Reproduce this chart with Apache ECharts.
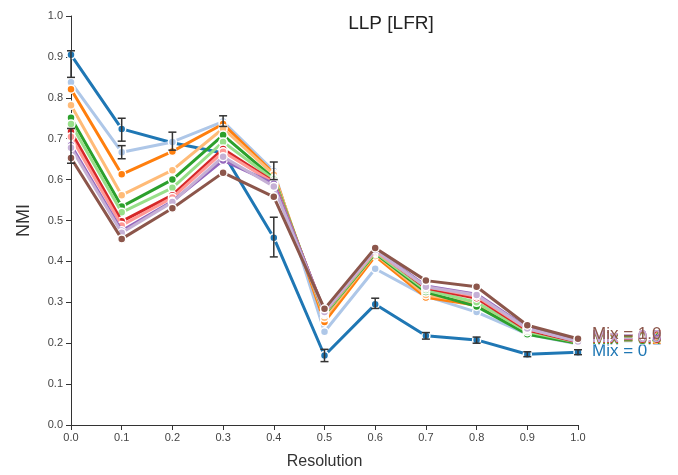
<!DOCTYPE html>
<html><head><meta charset="utf-8">
<script src="https://cdn.jsdelivr.net/npm/echarts@6/dist/echarts.min.js"></script>
<style>html,body{margin:0;padding:0;background:#fff}#c{width:678px;height:475px}</style>
</head><body><div id="c"></div>
<script>
const resolutions = [0.0,0.1,0.2,0.3,0.4,0.5,0.6,0.7,0.8,0.9,1.0];
const mixNames = ['Mix = 0','Mix = 0.1','Mix = 0.2','Mix = 0.3','Mix = 0.4','Mix = 0.5','Mix = 0.6','Mix = 0.7','Mix = 0.8','Mix = 0.9','Mix = 1.0'];
const mixColors = ['#1f77b4','#aec7e8','#ff7f0e','#ffbb78','#2ca02c','#98df8a','#d62728','#ff9896','#9467bd','#c5b0d5','#8c564b'];
const mix00 = [0.905,0.724,0.690,0.665,0.458,0.170,0.295,0.218,0.208,0.173,0.178];
const mix01 = [0.838,0.667,0.692,0.742,0.621,0.228,0.382,0.315,0.276,0.222,0.198];
const mix02 = [0.821,0.613,0.669,0.736,0.615,0.252,0.413,0.312,0.293,0.225,0.200];
const mix03 = [0.782,0.562,0.623,0.725,0.612,0.262,0.418,0.318,0.298,0.226,0.200];
const mix04 = [0.751,0.534,0.600,0.709,0.603,0.270,0.420,0.325,0.290,0.222,0.200];
const mix05 = [0.736,0.520,0.580,0.692,0.600,0.272,0.422,0.330,0.300,0.228,0.202];
const mix06 = [0.717,0.498,0.562,0.675,0.595,0.275,0.428,0.335,0.310,0.232,0.203];
const mix07 = [0.705,0.488,0.556,0.668,0.592,0.276,0.425,0.338,0.315,0.235,0.205];
const mix08 = [0.684,0.475,0.547,0.647,0.590,0.278,0.430,0.340,0.320,0.238,0.205];
const mix09 = [0.678,0.470,0.545,0.656,0.583,0.276,0.428,0.338,0.318,0.236,0.204];
const mix10 = [0.653,0.455,0.530,0.617,0.558,0.284,0.433,0.353,0.338,0.244,0.211];
const allMix = [mix00,mix01,mix02,mix03,mix04,mix05,mix06,mix07,mix08,mix09,mix10];
// error bars: [resolution, low, high]
const errBars = [
  [0.0,0.850,0.915],[0.1,0.694,0.750],[0.2,0.672,0.716],[0.4,0.411,0.508],
  [0.5,0.155,0.185],[0.6,0.285,0.310],[0.7,0.210,0.226],[0.8,0.200,0.215],
  [0.9,0.167,0.179],[1.0,0.172,0.184],
  [0.1,0.651,0.683],[0.3,0.730,0.756],[0.4,0.600,0.643],[0.0,0.640,0.725]
];
const tickFmt = v => v.toFixed(1);

const chart = echarts.init(document.getElementById('c'), null, {renderer:'canvas'});
const series = allMix.map((arr,i)=>({
  name: mixNames[i], type:'line', z: 2+i,
  data: arr.map((v,j)=>[resolutions[j], v]),
  symbol:'circle', symbolSize:8, showSymbol:true,
  lineStyle:{width:3,color:mixColors[i]},
  itemStyle:{color:mixColors[i],borderColor:'#fff',borderWidth:1.5},
  emphasis:{disabled:true},
  endLabel:{show:true,formatter:mixNames[i],color:mixColors[i],fontSize:17,fontFamily:'Liberation Sans, Arial, sans-serif',distance:14,offset:[0,i===0?-1:-4]},
  animation:false
}));
series.push({
  type:'custom', z:20, animation:false,
  data: errBars,
  renderItem:(params,api)=>{
    const x=api.value(0), lo=api.value(1), hi=api.value(2);
    const pLo=api.coord([x,lo]), pHi=api.coord([x,hi]);
    const w=4;
    const st={stroke:'#333',lineWidth:1.5};
    return {type:'group',children:[
      {type:'line',shape:{x1:pLo[0],y1:pLo[1],x2:pHi[0],y2:pHi[1]},style:st},
      {type:'line',shape:{x1:pLo[0]-w,y1:pLo[1],x2:pLo[0]+w,y2:pLo[1]},style:st},
      {type:'line',shape:{x1:pHi[0]-w,y1:pHi[1],x2:pHi[0]+w,y2:pHi[1]},style:st}
    ]};
  }
});
chart.setOption({
  animation:false,
  title:{text:'LLP [LFR]',left:386,top:9,textAlign:'center',textStyle:{fontSize:19,fontWeight:'normal',color:'#222',fontFamily:'Liberation Sans, Arial, sans-serif'}},
  grid:{left:71,right:100,top:16,bottom:46},
  xAxis:{type:'value',min:0,max:1,interval:0.1,name:'Resolution',nameLocation:'middle',nameGap:29,
    nameTextStyle:{fontSize:16,color:'#333',fontFamily:'Liberation Sans, Arial, sans-serif'},
    axisLine:{lineStyle:{color:'#333',width:1}},axisTick:{length:5,lineStyle:{color:'#333'}},
    axisLabel:{formatter:tickFmt,fontSize:11,color:'#444',margin:7,fontFamily:'Liberation Sans, Arial, sans-serif'},splitLine:{show:false}},
  yAxis:{type:'value',min:0,max:1,interval:0.1,name:'NMI',nameLocation:'middle',nameGap:38,
    nameTextStyle:{fontSize:18,color:'#333',fontFamily:'Liberation Sans, Arial, sans-serif'},
    axisLine:{show:true,lineStyle:{color:'#333',width:1}},axisTick:{show:true,length:5,lineStyle:{color:'#333'}},
    axisLabel:{formatter:tickFmt,fontSize:11,color:'#444',margin:8,fontFamily:'Liberation Sans, Arial, sans-serif'},splitLine:{show:false}},
  series: series
});
</script></body></html>
